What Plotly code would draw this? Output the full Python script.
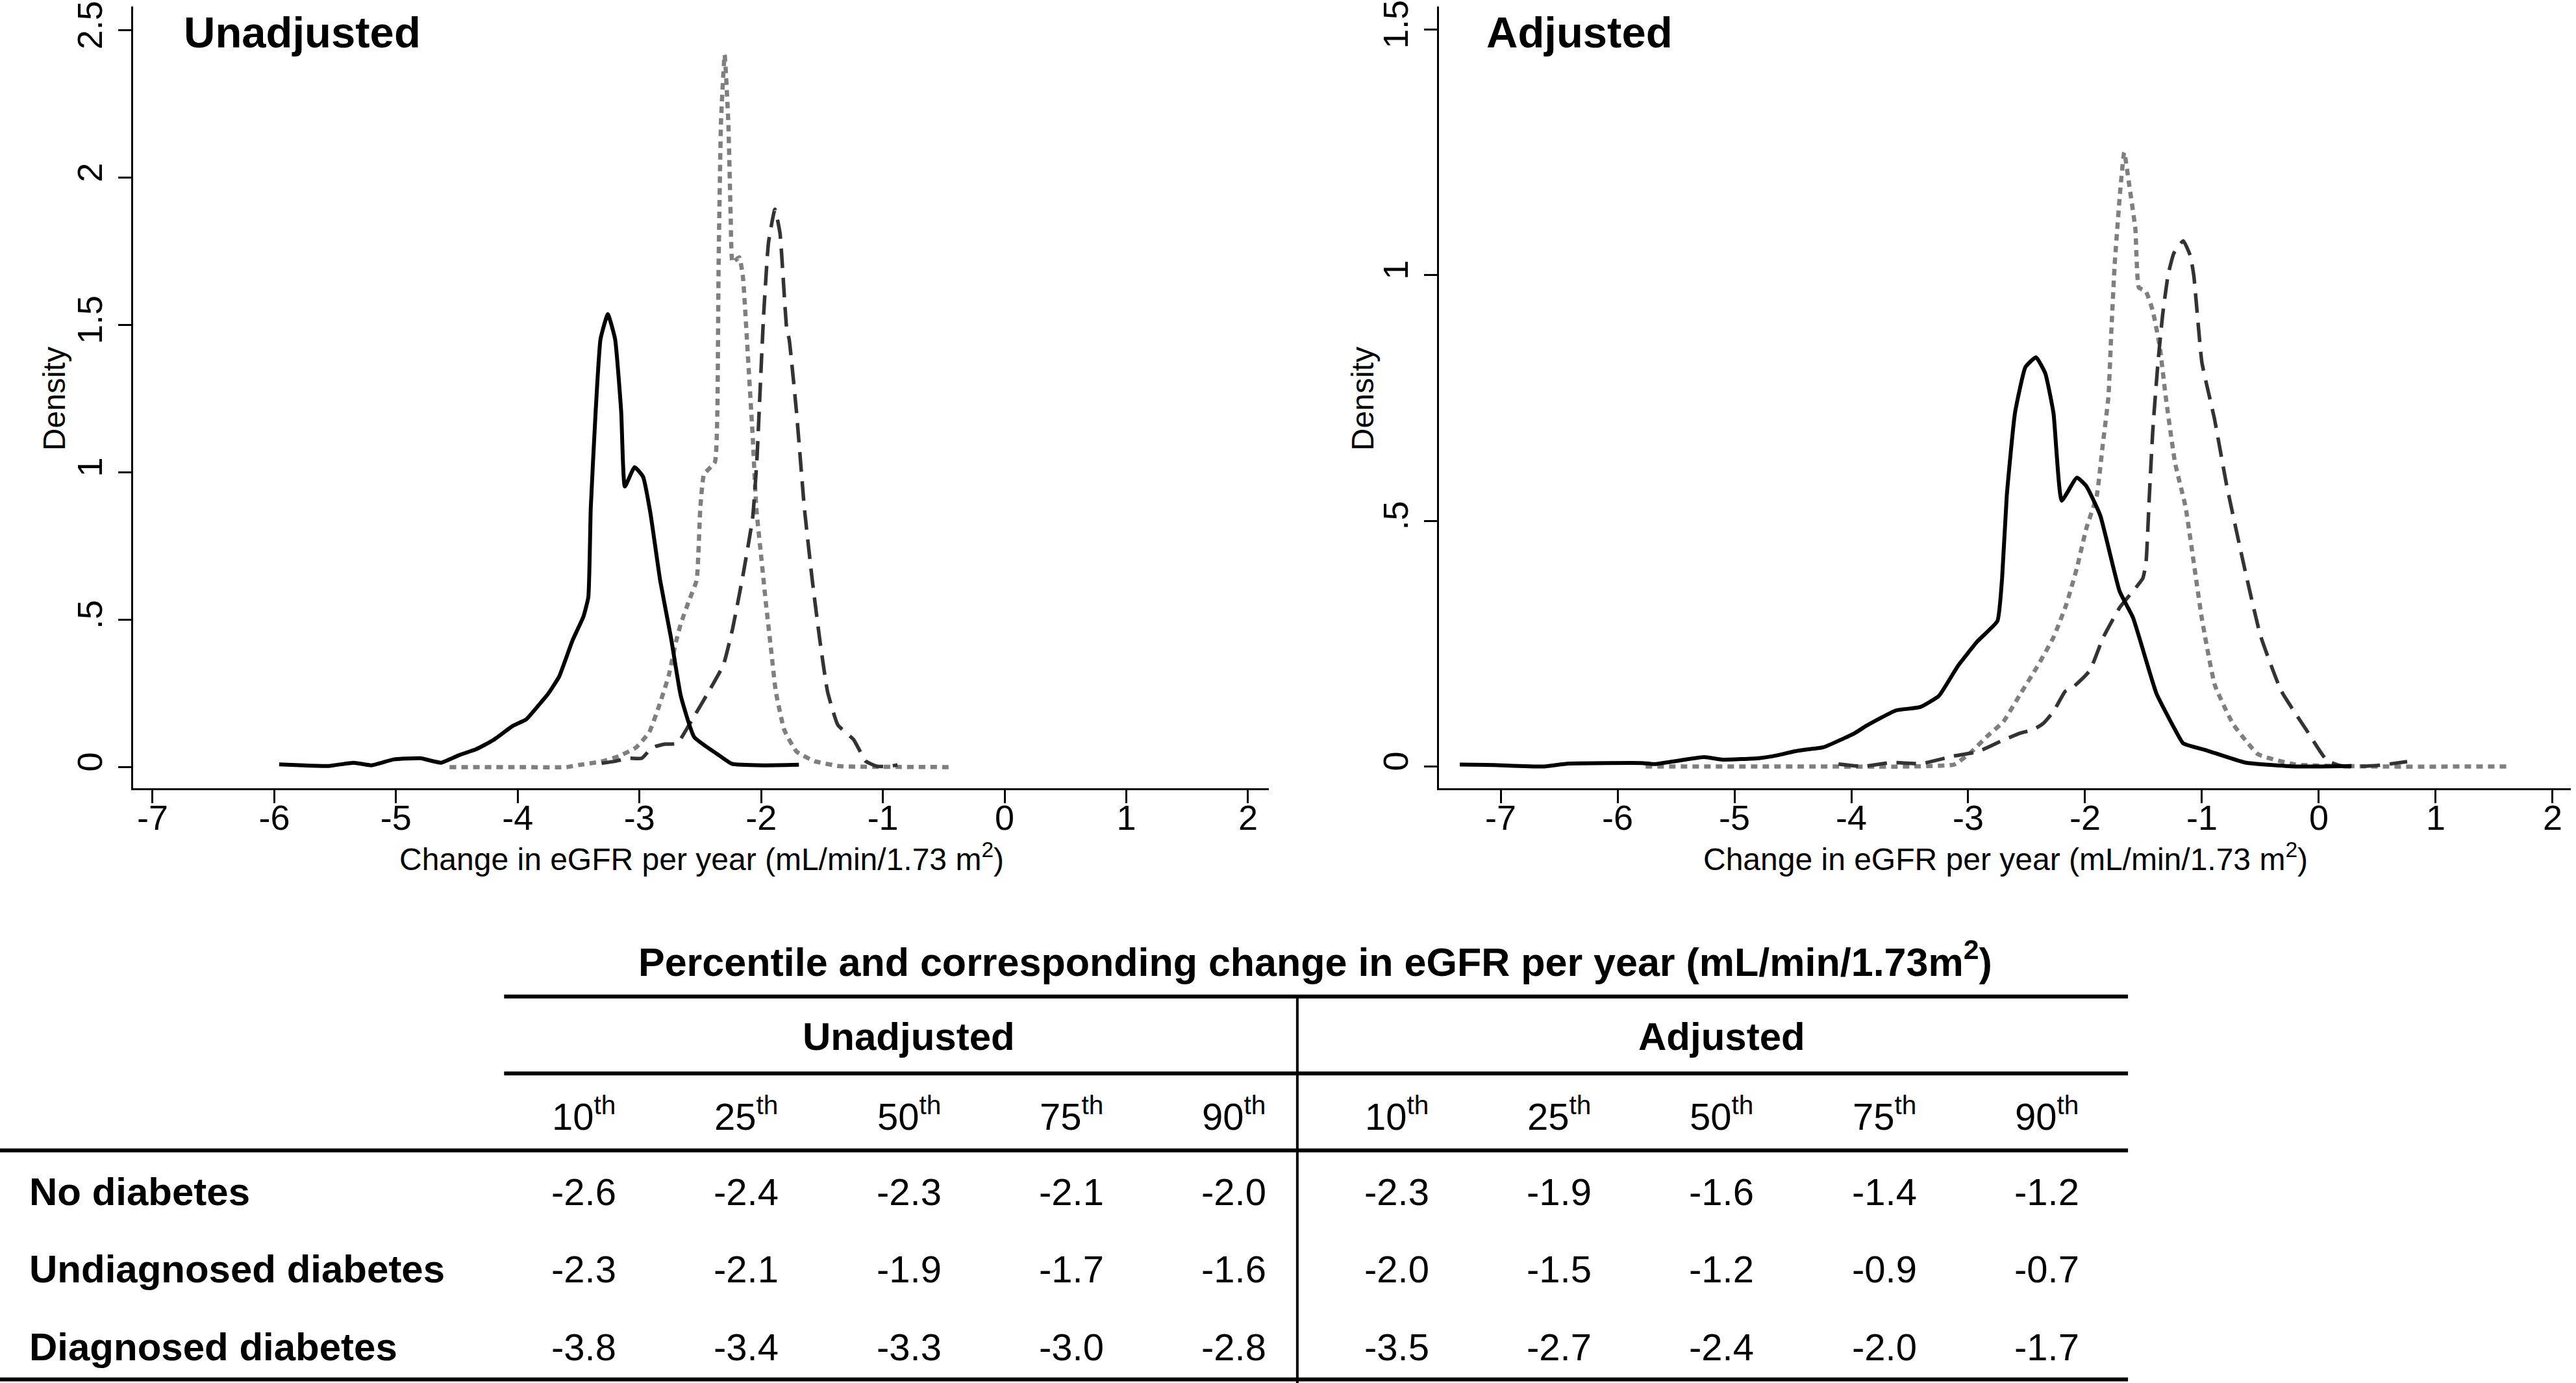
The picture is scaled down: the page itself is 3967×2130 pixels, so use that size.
import plotly.graph_objects as go

W, H = 3967, 2130
FONT = "Liberation Sans, Arial, Helvetica, sans-serif"

# ---------------- Density data ----------------
# Unadjusted
un_nodm_x = [-4.56, -4.0, -3.60, -3.50, -3.30, -3.17, -3.03, -2.92, -2.84, -2.76, -2.70, -2.66, -2.59, -2.53,
             -2.50, -2.47, -2.38, -2.36, -2.35, -2.33, -2.30, -2.27, -2.25, -2.235, -2.18, -2.15, -2.11, -2.07,
             -2.04, -2.00, -1.96, -1.92, -1.88, -1.81, -1.71, -1.56, -1.35, -1.0, -0.42]
un_nodm_y = [0, 0, 0, 0.007, 0.02, 0.037, 0.066, 0.118, 0.206, 0.31, 0.425, 0.487, 0.568, 0.634,
             0.879, 0.993, 1.035, 1.206, 1.697, 2.19, 2.417, 2.19, 1.861, 1.713, 1.73, 1.664, 1.402, 1.125,
             0.879, 0.715, 0.552, 0.404, 0.257, 0.126, 0.053, 0.02, 0.003, 0.001, 0.0]

un_undx_x = [-3.31, -3.20, -3.09, -2.98, -2.91, -2.87, -2.79, -2.69, -2.57, -2.43, -2.31, -2.235, -2.15, -2.07,
             -2.035, -2.013, -1.98, -1.94, -1.887, -1.845, -1.79, -1.77, -1.71, -1.645, -1.58, -1.52, -1.455,
             -1.37, -1.24, -1.14, -1.05, -0.94, -0.88]
un_undx_y = [0.013, 0.02, 0.03, 0.03, 0.061, 0.07, 0.078, 0.08, 0.159, 0.257, 0.347, 0.469, 0.65, 0.846,
             1.042, 1.239, 1.533, 1.779, 1.893, 1.811, 1.485, 1.452, 1.206, 0.879, 0.634, 0.437, 0.257,
             0.143, 0.093, 0.02, 0.003, 0.003, 0.008]

un_dx_x = [-5.96, -5.76, -5.55, -5.35, -5.20, -5.02, -4.80, -4.63, -4.48, -4.34, -4.20, -4.04, -3.93, -3.80,
           -3.75, -3.66, -3.55, -3.46, -3.42, -3.40, -3.36, -3.32, -3.26, -3.20, -3.15, -3.12, -3.04, -2.97,
           -2.91, -2.83, -2.74, -2.66, -2.55, -2.36, -2.24, -1.98, -1.69]
un_dx_y = [0.009, 0.006, 0.004, 0.015, 0.006, 0.026, 0.03, 0.015, 0.041, 0.061, 0.092, 0.14, 0.162, 0.224,
           0.249, 0.307, 0.43, 0.511, 0.577, 0.879, 1.206, 1.452, 1.537, 1.452, 1.206, 0.952, 1.018, 0.985,
           0.862, 0.634, 0.437, 0.241, 0.102, 0.044, 0.011, 0.006, 0.008]

# Adjusted
ad_nodm_x = [-5.76, -4.5, -3.5, -3.12, -2.98, -2.84, -2.70, -2.55, -2.41, -2.27, -2.16, -2.07, -1.99, -1.90,
             -1.85, -1.80, -1.775, -1.747, -1.70, -1.665, -1.62, -1.57, -1.54, -1.48, -1.42, -1.36, -1.31,
             -1.23, -1.14, -1.0, -0.89, -0.735, -0.52, -0.2, 0.5, 1.61]
ad_nodm_y = [0, 0, 0, 0.004, 0.028, 0.061, 0.091, 0.149, 0.203, 0.263, 0.33, 0.404, 0.484, 0.551,
             0.652, 0.753, 0.887, 1.021, 1.17, 1.25, 1.18, 1.095, 0.975, 0.967, 0.927, 0.853, 0.753,
             0.618, 0.528, 0.30, 0.166, 0.087, 0.025, 0.004, 0.0, 0.0]

ad_undx_x = [-4.11, -3.90, -3.66, -3.40, -3.13, -2.92, -2.725, -2.556, -2.441, -2.356, -2.27, -2.17, -2.10,
             -1.96, -1.846, -1.705, -1.506, -1.478, -1.45, -1.42, -1.377, -1.336, -1.29, -1.24, -1.16, -1.10,
             -1.07, -1.0, -0.894, -0.789, -0.645, -0.5, -0.322, -0.108, 0.07, 0.21, 0.5, 0.756]
ad_undx_y = [0.005, 0.0, 0.008, 0.006, 0.021, 0.03, 0.051, 0.068, 0.075, 0.088, 0.112, 0.153, 0.162,
             0.195, 0.262, 0.323, 0.383, 0.417, 0.551, 0.686, 0.82, 0.92, 1.0, 1.045, 1.07, 1.04,
             1.0, 0.822, 0.709, 0.573, 0.414, 0.267, 0.154, 0.075, 0.012, 0.0, 0.002, 0.01]

ad_dx_x = [-7.35, -7.06, -6.64, -6.42, -5.79, -5.68, -5.26, -5.10, -4.79, -4.67, -4.48, -4.40, -4.24, -3.97,
           -3.87, -3.62, -3.41, -3.25, -3.09, -2.92, -2.75, -2.71, -2.67, -2.60, -2.51, -2.42, -2.34, -2.27,
           -2.20, -2.07, -1.99, -1.87, -1.705, -1.59, -1.39, -1.23, -1.16, -0.95, -0.63, -0.2, 0.28]
ad_dx_y = [0.004, 0.003, 0.0, 0.006, 0.007, 0.005, 0.019, 0.014, 0.017, 0.021, 0.031, 0.034, 0.039, 0.068,
           0.083, 0.114, 0.121, 0.144, 0.204, 0.255, 0.296, 0.383, 0.551, 0.719, 0.813, 0.833, 0.80, 0.719,
           0.541, 0.588, 0.571, 0.511, 0.357, 0.303, 0.149, 0.075, 0.047, 0.032, 0.008, 0.0, 0.001]

x_tick_vals = [-7, -6, -5, -4, -3, -2, -1, 0, 1, 2]
x_tick_text = ["-7", "-6", "-5", "-4", "-3", "-2", "-1", "0", "1", "2"]
y1_tick_vals = [0, 0.5, 1, 1.5, 2, 2.5]
y1_tick_text = ["0", ".5", "1", "1.5", "2", "2.5"]
y2_tick_vals = [0, 0.5, 1, 1.5]
y2_tick_text = ["0", ".5", "1", "1.5"]

# ---------------- Table data ----------------
table_title = "Percentile and corresponding change in eGFR per year (mL/min/1.73m<sup>2</sup>)"
groups = ["Unadjusted", "Adjusted"]
percentiles = ["10", "25", "50", "75", "90"]
row_labels = ["No diabetes", "Undiagnosed diabetes", "Diagnosed diabetes"]
unadj_vals = [["-2.6", "-2.4", "-2.3", "-2.1", "-2.0"],
              ["-2.3", "-2.1", "-1.9", "-1.7", "-1.6"],
              ["-3.8", "-3.4", "-3.3", "-3.0", "-2.8"]]
adj_vals = [["-2.3", "-1.9", "-1.6", "-1.4", "-1.2"],
            ["-2.0", "-1.5", "-1.2", "-0.9", "-0.7"],
            ["-3.5", "-2.7", "-2.4", "-2.0", "-1.7"]]

fig = go.Figure()

SOLID = dict(color="black", width=6, shape="spline", smoothing=0.4)
DOT = dict(color="#7f7f7f", width=6.5, dash="10px,8px", shape="spline", smoothing=0.4)
DASH = dict(color="#333333", width=5.5, dash="30px,15px", shape="spline", smoothing=0.4)

for xs, ys, ln, ax in [
    (un_nodm_x, un_nodm_y, DOT, 1), (un_undx_x, un_undx_y, DASH, 1), (un_dx_x, un_dx_y, SOLID, 1),
    (ad_nodm_x, ad_nodm_y, DOT, 2), (ad_undx_x, ad_undx_y, DASH, 2), (ad_dx_x, ad_dx_y, SOLID, 2),
]:
    fig.add_trace(go.Scatter(x=xs, y=ys, mode="lines", line=ln,
                             xaxis="x" if ax == 1 else "x2", yaxis="y" if ax == 1 else "y2",
                             hoverinfo="skip", showlegend=False))

# invisible anchor trace so the table grid axes exist
fig.add_trace(go.Scatter(x=[0], y=[0], mode="markers", marker=dict(opacity=0), xaxis="x3", yaxis="y3",
                         hoverinfo="skip", showlegend=False))


def tbl(x, y, text, size=58, bold=False, xanchor="center"):
    return dict(x=x, y=y, xref="x3", yref="y3", text=("<b>%s</b>" % text) if bold else text,
                showarrow=False, xanchor=xanchor, yanchor="middle",
                font=dict(family=FONT, size=size, color="black"))


# ---------------- Table (grid units: columns 1..10, rows 0..5) ----------------
annotations = [tbl(5.5, 0, table_title, size=61, bold=True)]
for g, name in enumerate(groups):
    annotations.append(tbl(3 + 5 * g, 1, name, size=60, bold=True))
    for j, p in enumerate(percentiles):
        annotations.append(tbl(1 + 5 * g + j, 2, p + "<sup>th</sup>"))
for r, lab in enumerate(row_labels):
    annotations.append(tbl(-2.42, 3 + r, lab, size=60, bold=True, xanchor="left"))
    for j in range(5):
        annotations.append(tbl(1 + j, 3 + r, unadj_vals[r][j]))
        annotations.append(tbl(6 + j, 3 + r, adj_vals[r][j]))

# chart titles / axis titles
annotations += [
    dict(x=281 / W, y=1, xref="paper", yref="paper", text="<b>Unadjusted</b>", showarrow=False,
         xanchor="left", yanchor="top", yshift=0, font=dict(family=FONT, size=67, color="black")),
    dict(x=2287 / W, y=1, xref="paper", yref="paper", text="<b>Adjusted</b>", showarrow=False,
         xanchor="left", yanchor="top", yshift=0, font=dict(family=FONT, size=67, color="black")),
    dict(x=83 / W, y=1 - 607 / H, xref="paper", yref="paper", text="Density", textangle=-90,
         showarrow=False, xanchor="center", yanchor="middle", font=dict(family=FONT, size=48, color="black")),
    dict(x=2098 / W, y=1 - 607 / H, xref="paper", yref="paper", text="Density", textangle=-90,
         showarrow=False, xanchor="center", yanchor="middle", font=dict(family=FONT, size=48, color="black")),
    dict(x=1080 / W, y=1 - 1316 / H, xref="paper", yref="paper",
         text="Change in eGFR per year (mL/min/1.73 m<sup>2</sup>)", showarrow=False,
         xanchor="center", yanchor="middle", font=dict(family=FONT, size=48, color="black")),
    dict(x=3088 / W, y=1 - 1316 / H, xref="paper", yref="paper",
         text="Change in eGFR per year (mL/min/1.73 m<sup>2</sup>)", showarrow=False,
         xanchor="center", yanchor="middle", font=dict(family=FONT, size=48, color="black")),
]

# table rules (in the hidden grid axis units)
RULE = dict(color="black", width=6)
shapes = [
    dict(type="line", xref="x3", yref="y3", x0=0.51, x1=10.5, y0=0.483, y1=0.483, line=RULE),
    dict(type="line", xref="x3", yref="y3", x0=0.51, x1=10.5, y0=1.475, y1=1.475, line=RULE),
    dict(type="line", xref="x3", yref="y3", x0=-2.7, x1=10.5, y0=2.467, y1=2.467, line=RULE),
    dict(type="line", xref="x3", yref="y3", x0=-2.7, x1=10.5, y0=5.42, y1=5.42, line=RULE),
    dict(type="line", xref="x3", yref="y3", x0=5.39, x1=5.39, y0=0.483, y1=5.47, line=dict(color="black", width=4)),
]

common_x = dict(tickvals=x_tick_vals, ticktext=x_tick_text, showline=True, linecolor="black", linewidth=3,
                ticks="outside", ticklen=20, tickwidth=3, tickcolor="black", showgrid=False, zeroline=False,
                tickfont=dict(family=FONT, size=54, color="black"), ticklabelstandoff=-24, fixedrange=True)
common_y = dict(showline=True, linecolor="black", linewidth=3, ticks="outside", ticklen=20, tickwidth=3,
                tickcolor="black", showgrid=False, zeroline=False, tickangle=-90, ticklabeloverflow="allow",
                tickfont=dict(family=FONT, size=54, color="black"), ticklabelstandoff=3, fixedrange=True)

ydom = [1 - 1210 / H, 1]
fig.update_layout(
    width=W, height=H, margin=dict(l=0, r=0, t=0, b=0),
    paper_bgcolor="white", plot_bgcolor="white", showlegend=False,
    font=dict(family=FONT, color="black"),
    xaxis=dict(domain=[205 / W, 1954 / W], range=[-7.16, 2.171], anchor="y", **common_x),
    yaxis=dict(domain=ydom, range=[-0.0724, 2.581], anchor="x", tickvals=y1_tick_vals,
               ticktext=y1_tick_text, **common_y),
    xaxis2=dict(domain=[2216 / W, 3959 / W], range=[-7.528, 2.156], anchor="y2", **common_x),
    yaxis2=dict(domain=ydom, range=[-0.0447, 1.547], anchor="x2", tickvals=y2_tick_vals,
                ticktext=y2_tick_text, **common_y),
    xaxis3=dict(domain=[0, 1], range=[-2.591, 13.256], anchor="y3", visible=False, fixedrange=True),
    yaxis3=dict(domain=[0, 730 / H], range=[5.467, -0.617], anchor="x3", visible=False, fixedrange=True),
    annotations=annotations, shapes=shapes,
)

fig.write_html("out.html", config={"displayModeBar": False, "staticPlot": True},
               post_script="document.body.style.margin='0';document.body.style.overflow='hidden';")
